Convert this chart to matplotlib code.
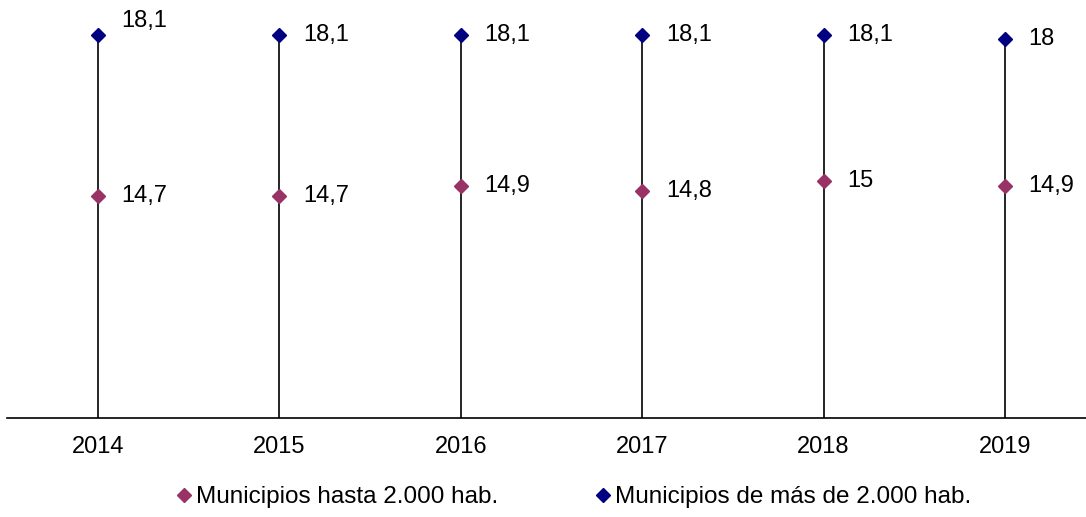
import numpy as np
import matplotlib.pyplot as plt

plt.rcParams['font.family'] = ['Liberation Sans', 'DejaVu Sans']

years = ['2014', '2015', '2016', '2017', '2018', '2019']
hasta_2000 = [14.7, 14.7, 14.9, 14.8, 15.0, 14.9]
mas_2000 = [18.1, 18.1, 18.1, 18.1, 18.1, 18.0]

purple = '#993366'
navy = '#000080'


def fmt(v):
    s = '{:.1f}'.format(v).replace('.', ',')
    return s[:-2] if s.endswith(',0') else s


fig = plt.figure(figsize=(10.86, 5.17), dpi=100)
ax = fig.add_axes([7 / 1086, 99 / 517, 1079 / 1086, 418 / 517])

x = np.arange(len(years))
ax.vlines(x, 10, mas_2000, color='black', lw=1.2, zorder=1)
ax.plot(x, hasta_2000, ls='none', marker='D', ms=7, color=purple,
        label='Municipios hasta 2.000 hab.', zorder=3)
ax.plot(x, mas_2000, ls='none', marker='D', ms=7, color=navy,
        label='Municipios de más de 2.000 hab.', zorder=3)

for i in range(len(years)):
    ax.annotate(fmt(hasta_2000[i]), (x[i], hasta_2000[i]), xytext=(17, 0),
                textcoords='offset points', va='center', ha='left', fontsize=17)
    dy = 10 if i == 0 else 0
    ax.annotate(fmt(mas_2000[i]), (x[i], mas_2000[i]), xytext=(17, dy),
                textcoords='offset points', va='center', ha='left', fontsize=17)

ax.set_xlim(-0.502, 5.447)
ax.set_ylim(10, 18.83)
ax.set_xticks(x)
ax.set_xticklabels(years, fontsize=17)
ax.tick_params(axis='x', length=0, pad=13)
ax.set_yticks([])
for s in ['top', 'right', 'left']:
    ax.spines[s].set_visible(False)
ax.spines['bottom'].set_linewidth(1.2)

fig.legend(loc='center', bbox_to_anchor=(574 / 1086, 20 / 517), ncol=2, frameon=False,
           fontsize=17.5, handlelength=0.6, handletextpad=0.2, columnspacing=4.0,
           borderpad=0, borderaxespad=0)

fig.savefig('out.png', dpi=100)
